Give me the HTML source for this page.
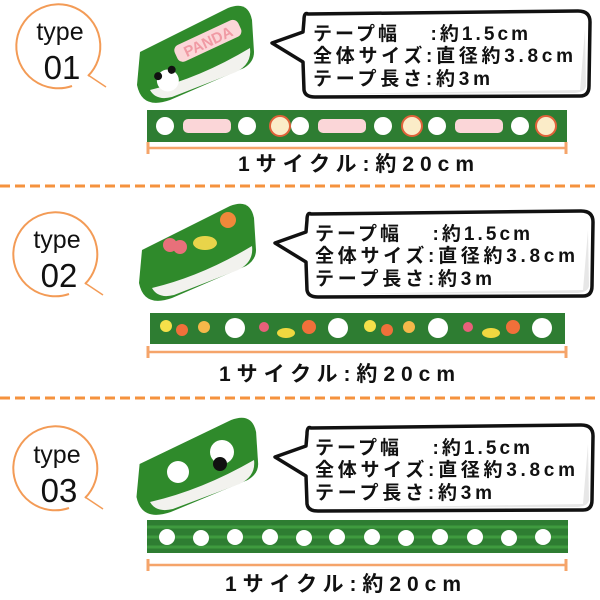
<!DOCTYPE html>
<html><head><meta charset="utf-8"><style>
html,body{margin:0;padding:0;background:#fff;}
svg{display:block}
.b{font-family:"Liberation Sans","Noto Sans CJK JP",sans-serif;font-weight:bold;fill:#111;}
.t{font-family:"Liberation Sans","Noto Sans CJK JP",sans-serif;fill:#111;}
</style></head><body>
<svg width="600" height="600" viewBox="0 0 600 600" xmlns="http://www.w3.org/2000/svg">
<defs>
<g id="badge">
  <path d="M88,76 A42,42 0 1 0 72,86" fill="none" stroke="#f39b56" stroke-width="2"/>
  <line x1="88" y1="75" x2="106" y2="87" stroke="#f39b56" stroke-width="1.5"/>
</g>
<g id="bubble">
  <path d="M308,14 Q304,12 304,20 L303,32 L272,43 L303,62 L304,90 Q305,97 315,97 L580,96 Q589,96 589,86 L590,22 Q590,11 578,11 Z" fill="#fff" stroke="#111" stroke-width="3.5" stroke-linejoin="round"/>
  <path d="M585,30 L586,86 Q585,92 575,93 L330,94 L580,90 Z" fill="#ddd" opacity="0.7"/>
</g>
<g id="bracket">
  <line x1="148" y1="0" x2="566" y2="0" stroke="#f5a46a" stroke-width="2.5"/>
  <line x1="148" y1="-6" x2="148" y2="6" stroke="#f5a46a" stroke-width="3"/>
  <line x1="566" y1="-6" x2="566" y2="6" stroke="#f5a46a" stroke-width="3"/>
</g>
<g id="roll">
  <path d="M140,52 L228,8 Q248,0 252,20 L254,52 Q254,62 244,68 L170,100 Q142,110 137,85 Z" fill="#2f8a2b"/>
  <path d="M150,90 Q200,78 250,48 Q252,64 236,72 L172,97 Q156,101 150,90 Z" fill="#f2f2ee"/>
</g>
</defs>

<line x1="0" y1="186" x2="600" y2="186" stroke="#f5923e" stroke-width="3" stroke-dasharray="10,5"/>
<line x1="0" y1="398" x2="600" y2="398" stroke="#f5923e" stroke-width="3" stroke-dasharray="10,5"/>

<!-- ===== Section 1 ===== -->
<use href="#badge"/>
<text class="t" x="60" y="40" font-size="25" text-anchor="middle">type</text>
<text class="t" x="62" y="79" font-size="33" text-anchor="middle">01</text>
<use href="#roll"/>
<g transform="rotate(-25 200 50)">
  <rect x="176" y="36" width="70" height="18" rx="6" fill="#fbd6d8"/>
  <text x="211" y="51" font-size="15" font-weight="bold" fill="#f09aa4" text-anchor="middle" font-family="Liberation Sans,sans-serif">PANDA</text>
  <circle cx="158" cy="64" r="11" fill="#fff"/><circle cx="151" cy="56" r="4" fill="#111"/><circle cx="166" cy="56" r="4" fill="#111"/>
</g>
<use href="#bubble"/>
<text class="b" x="313" y="40" font-size="19" textLength="215">テープ幅　 :約1.5cm</text>
<text class="b" x="313" y="62" font-size="19" textLength="260">全体サイズ:直径約3.8cm</text>
<text class="b" x="313" y="85" font-size="19" textLength="177">テープ長さ:約3m</text>
<rect x="147" y="110" width="420" height="32" fill="#2e7d32"/>
<g fill="#fff">
  <circle cx="165" cy="126" r="9"/><rect x="183" y="119" width="48" height="14" rx="5" fill="#fbd6d8"/>
  <circle cx="247" cy="126" r="9"/><circle cx="280" cy="126" r="10" fill="#fbecc8" stroke="#e0623a" stroke-width="2"/>
  <circle cx="300" cy="126" r="9"/><rect x="318" y="119" width="48" height="14" rx="5" fill="#fbd6d8"/>
  <circle cx="383" cy="126" r="9"/><circle cx="412" cy="126" r="10" fill="#fbecc8" stroke="#e0623a" stroke-width="2"/>
  <circle cx="437" cy="126" r="9"/><rect x="455" y="119" width="48" height="14" rx="5" fill="#fbd6d8"/>
  <circle cx="520" cy="126" r="9"/><circle cx="546" cy="126" r="10" fill="#fbecc8" stroke="#e0623a" stroke-width="2"/>
</g>
<use href="#bracket" transform="translate(0,148)"/>
<text class="b" x="238" y="171" font-size="21" textLength="236">1サイクル:約20cm</text>

<!-- ===== Section 2 ===== -->
<use href="#badge" transform="translate(-3,208)"/>
<text class="t" x="57" y="248" font-size="25" text-anchor="middle">type</text>
<text class="t" x="59" y="287" font-size="33" text-anchor="middle">02</text>
<use href="#roll" transform="translate(2,198)"/>
<circle cx="228" cy="220" r="8" fill="#f0883a"/><ellipse cx="205" cy="243" rx="12" ry="7" fill="#e8d44a"/>
<circle cx="170" cy="245" r="7" fill="#e8707a"/><circle cx="180" cy="247" r="7" fill="#e8707a"/>
<use href="#bubble" transform="translate(3,200)"/>
<text class="b" x="315" y="240" font-size="19" textLength="215">テープ幅　 :約1.5cm</text>
<text class="b" x="315" y="262" font-size="19" textLength="260">全体サイズ:直径約3.8cm</text>
<text class="b" x="315" y="285" font-size="19" textLength="177">テープ長さ:約3m</text>
<rect x="150" y="313" width="415" height="31" fill="#2e7d32"/>
<g>
  <circle cx="166" cy="326" r="6" fill="#f5e04a"/><circle cx="182" cy="330" r="6" fill="#f0703a"/><circle cx="204" cy="327" r="6" fill="#f5b84a"/><circle cx="235" cy="328" r="10" fill="#fff"/>
  <circle cx="264" cy="327" r="5" fill="#e8607a"/><ellipse cx="286" cy="333" rx="9" ry="5" fill="#f0d840"/><circle cx="309" cy="327" r="7" fill="#f0703a"/><circle cx="338" cy="328" r="10" fill="#fff"/>
  <circle cx="370" cy="326" r="6" fill="#f5e04a"/><circle cx="387" cy="330" r="6" fill="#f0703a"/><circle cx="409" cy="327" r="6" fill="#f5b84a"/><circle cx="438" cy="328" r="10" fill="#fff"/>
  <circle cx="468" cy="327" r="5" fill="#e8607a"/><ellipse cx="491" cy="333" rx="9" ry="5" fill="#f0d840"/><circle cx="513" cy="327" r="7" fill="#f0703a"/><circle cx="542" cy="328" r="10" fill="#fff"/>
</g>
<use href="#bracket" transform="translate(0,352)"/>
<text class="b" x="219" y="381" font-size="21" textLength="236">1サイクル:約20cm</text>

<!-- ===== Section 3 ===== -->
<use href="#badge" transform="translate(-3,422)"/>
<text class="t" x="57" y="463" font-size="25" text-anchor="middle">type</text>
<text class="t" x="59" y="502" font-size="33" text-anchor="middle">03</text>
<use href="#roll" transform="translate(-6,412) scale(1.04,1)"/>
<circle cx="178" cy="472" r="11" fill="#fff"/><circle cx="222" cy="452" r="12" fill="#fff"/><circle cx="220" cy="464" r="7" fill="#111"/>
<use href="#bubble" transform="translate(3,414)"/>
<text class="b" x="315" y="454" font-size="19" textLength="215">テープ幅　 :約1.5cm</text>
<text class="b" x="315" y="476" font-size="19" textLength="260">全体サイズ:直径約3.8cm</text>
<text class="b" x="315" y="499" font-size="19" textLength="177">テープ長さ:約3m</text>
<rect x="147" y="520" width="421" height="33" fill="#2e7d32"/>
<g stroke="#3f9a3f" stroke-width="3"><line x1="147" y1="527" x2="568" y2="527"/><line x1="147" y1="537" x2="568" y2="537"/><line x1="147" y1="547" x2="568" y2="547"/></g>
<g fill="#fff">
  <circle cx="167" cy="537" r="8"/><circle cx="201" cy="538" r="8"/><circle cx="235" cy="537" r="8"/>
  <circle cx="270" cy="537" r="8"/><circle cx="304" cy="538" r="8"/><circle cx="337" cy="537" r="8"/>
  <circle cx="372" cy="537" r="8"/><circle cx="406" cy="538" r="8"/><circle cx="440" cy="537" r="8"/>
  <circle cx="475" cy="537" r="8"/><circle cx="509" cy="538" r="8"/><circle cx="543" cy="537" r="8"/>
</g>
<use href="#bracket" transform="translate(0,565)"/>
<text class="b" x="225" y="591" font-size="21" textLength="236">1サイクル:約20cm</text>
</svg>
</body></html>
